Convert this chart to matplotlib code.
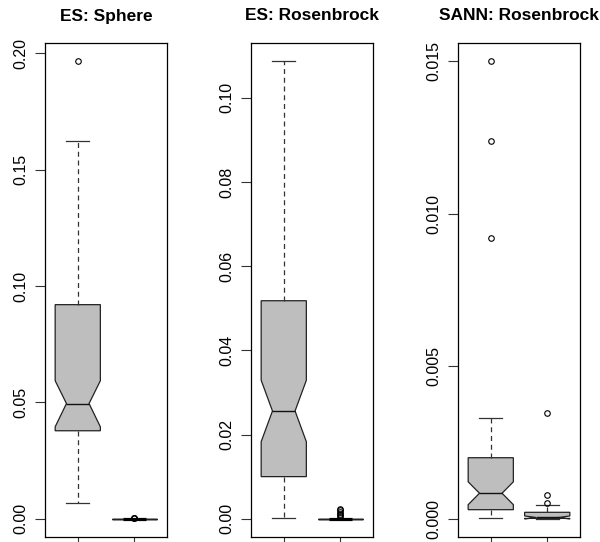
import matplotlib
matplotlib.use("Agg")
import matplotlib.pyplot as plt
from matplotlib.ticker import FixedLocator

plt.rcParams['font.family'] = ['Liberation Sans', 'DejaVu Sans']

# ---- data ----
titles = ["ES: Sphere", "ES: Rosenbrock", "SANN: Rosenbrock"]

# panel 1: ES Sphere
p1_whislo = [0.0069, 0.0]
p1_q1 = [0.0378, 0.0]
p1_med = [0.0495, 0.0]
p1_q3 = [0.0920, 0.0]
p1_whishi = [0.1623, 0.0]
p1_cilo = [0.0395, 0.0]
p1_cihi = [0.0593, 0.0]
p1_fliers = [[0.1966], [0.0001, 0.0003, 0.0005]]
p1_ticks = [0.00, 0.05, 0.10, 0.15, 0.20]
p1_ticklabels = ["0.00", "0.05", "0.10", "0.15", "0.20"]

# panel 2: ES Rosenbrock
p2_whislo = [0.0002, 0.0]
p2_q1 = [0.0100, 0.0]
p2_med = [0.0256, 0.0]
p2_q3 = [0.0518, 0.0]
p2_whishi = [0.1087, 0.0]
p2_cilo = [0.0183, 0.0]
p2_cihi = [0.0329, 0.0]
p2_fliers = [[], [0.0004, 0.0008, 0.0012, 0.0016, 0.0020, 0.0023]]
p2_ticks = [0.00, 0.02, 0.04, 0.06, 0.08, 0.10]
p2_ticklabels = ["0.00", "0.02", "0.04", "0.06", "0.08", "0.10"]

# panel 3: SANN Rosenbrock
p3_whislo = [0.00001, 0.0]
p3_q1 = [0.000296, 0.00001]
p3_med = [0.000835, 0.00004]
p3_q3 = [0.00200, 0.00021]
p3_whishi = [0.00329, 0.00045]
p3_cilo = [0.00046, -0.00001]
p3_cihi = [0.00121, 0.00009]
p3_fliers = [[0.0092, 0.0124, 0.0150], [0.00053, 0.00079, 0.00348]]
p3_ticks = [0.000, 0.005, 0.010, 0.015]
p3_ticklabels = ["0.000", "0.005", "0.010", "0.015"]

panels = [
    (p1_whislo, p1_q1, p1_med, p1_q3, p1_whishi, p1_cilo, p1_cihi, p1_fliers, p1_ticks, p1_ticklabels),
    (p2_whislo, p2_q1, p2_med, p2_q3, p2_whishi, p2_cilo, p2_cihi, p2_fliers, p2_ticks, p2_ticklabels),
    (p3_whislo, p3_q1, p3_med, p3_q3, p3_whishi, p3_cilo, p3_cihi, p3_fliers, p3_ticks, p3_ticklabels),
]

W, H = 600, 542
fig = plt.figure(figsize=(W / 100, H / 100), dpi=100)
lefts = [45, 251, 458]
ax_w, ax_top, ax_bot = 122, 43, 537

for i, (wl, q1, md, q3, wh, cl, ch, fl, ticks, tlabels) in enumerate(panels):
    ax = fig.add_axes([lefts[i] / W, (H - ax_bot) / H, ax_w / W, (ax_bot - ax_top) / H])
    stats = []
    for k in range(2):
        stats.append(dict(whislo=wl[k], q1=q1[k], med=md[k], q3=q3[k], whishi=wh[k],
                          cilo=cl[k], cihi=ch[k], fliers=fl[k]))
    res = ax.bxp(stats, positions=[1, 2], widths=0.8, shownotches=True, patch_artist=True,
                 boxprops=dict(facecolor="#bebebe", edgecolor="#222222", linewidth=0.9),
                 medianprops=dict(color="#111111", linewidth=1.0, solid_capstyle="butt"),
                 whiskerprops=dict(color="#333333", linewidth=0.9, linestyle=(0, (4, 3))),
                 capprops=dict(color="#333333", linewidth=0.9),
                 flierprops=dict(marker="o", markerfacecolor="none", markeredgecolor="black",
                                 markersize=4, markeredgewidth=0.8),
                 manage_ticks=False)
    # collapsed boxes show as a thick line
    for k in range(2):
        if q3[k] - q1[k] == 0:
            res['medians'][k].set_linewidth(2.3)
            res['medians'][k].set_color("black")
    allv = wl + wh + [v for f in fl for v in f]
    lo, hi = min(allv + [0.0]), max(allv)
    r = hi - lo
    ax.set_ylim(lo - 0.04 * r, hi + 0.04 * r)
    ax.set_xlim(0.42, 2.58)
    ax.yaxis.set_major_locator(FixedLocator(ticks))
    ax.set_yticklabels(tlabels, rotation=90, va="center", fontsize=11.5)
    ax.set_xticks([1, 2])
    ax.set_xticklabels(["", ""])
    ax.tick_params(axis="both", length=7, width=0.8, color="#333333", pad=5)
    for s in ax.spines.values():
        s.set_linewidth(0.9)
        s.set_color("black")
    fig.text((lefts[i] + ax_w / 2) / W, 1 - 16 / H, titles[i], ha="center", va="center",
             fontsize=12.5, fontweight="bold")

fig.savefig("out.png", dpi=100)
